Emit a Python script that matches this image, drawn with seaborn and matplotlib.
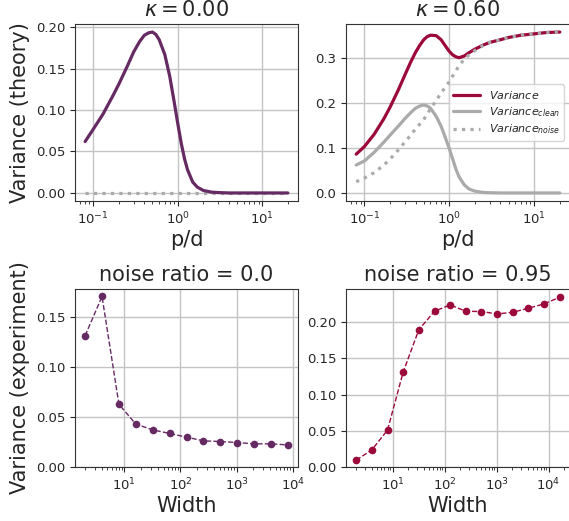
import numpy as np
import pandas as pd
import matplotlib
matplotlib.use('Agg')
import matplotlib.pyplot as plt
import seaborn as sns

# theory curves
pd_ratio = [0.08, 0.1, 0.13, 0.17, 0.2, 0.25, 0.3, 0.35, 0.4, 0.45, 0.5, 0.55, 0.6, 0.7, 0.8, 0.9,
            1.0, 1.1, 1.2, 1.3, 1.5, 1.7, 2.0, 2.5, 3, 4, 5, 7, 10, 14, 20]
clean_k0 = [0.062, 0.077, 0.095, 0.117, 0.131, 0.152, 0.170, 0.182, 0.190, 0.193, 0.194, 0.191, 0.185,
            0.167, 0.141, 0.111, 0.083, 0.059, 0.041, 0.028, 0.013, 0.007, 0.003, 0.001, 0.0005,
            0, 0, 0, 0, 0, 0]
noise_k0 = [0.0] * len(pd_ratio)
var_k6 = [0.086, 0.103, 0.130, 0.165, 0.190, 0.228, 0.262, 0.290, 0.312, 0.328, 0.340, 0.347, 0.350,
          0.349, 0.340, 0.326, 0.314, 0.306, 0.302, 0.300, 0.304, 0.311, 0.319, 0.328, 0.334, 0.340,
          0.345, 0.350, 0.353, 0.356, 0.357]
clean_k6 = [0.062, 0.071, 0.090, 0.113, 0.128, 0.148, 0.165, 0.178, 0.188, 0.193, 0.195, 0.193, 0.188,
            0.170, 0.148, 0.122, 0.098, 0.074, 0.052, 0.036, 0.018, 0.009, 0.004, 0.001, 0.0005,
            0, 0, 0, 0, 0, 0]
noise_k6 = [0.025, 0.033, 0.045, 0.062, 0.075, 0.095, 0.113, 0.128, 0.142, 0.153, 0.163, 0.175, 0.187,
            0.205, 0.222, 0.235, 0.247, 0.260, 0.272, 0.282, 0.297, 0.306, 0.316, 0.327, 0.334, 0.340,
            0.345, 0.350, 0.353, 0.356, 0.357]

# experiments
width_a = [2, 4, 8, 16, 32, 64, 128, 256, 512, 1024, 2048, 4096, 8192]
var_noise0 = [0.1315, 0.1708, 0.0628, 0.043, 0.0372, 0.0336, 0.0299, 0.0262, 0.0255, 0.0245,
              0.0232, 0.0232, 0.0221]
width_b = [2, 4, 8, 16, 32, 64, 128, 256, 512, 1024, 2048, 4096, 8192, 16384]
var_noise95 = [0.0095, 0.0237, 0.051, 0.1313, 0.1898, 0.2153, 0.2241, 0.2153, 0.2149, 0.2116,
               0.2139, 0.2195, 0.2255, 0.2348]

purple = '#662a63'
red = '#9c0a3b'
gray = '#aaaaaa'

sns.set_style('ticks')
plt.rcParams['font.family'] = ['DejaVu Sans']

fig = plt.figure(figsize=(5.69, 5.21), dpi=100)
W, H = 569, 521
def rect(x0, y0, x1, y1):
    return [x0 / W, 1 - y1 / H, (x1 - x0) / W, (y1 - y0) / H]

ax1 = fig.add_axes(rect(75, 24, 298, 201))
ax2 = fig.add_axes(rect(346, 24, 570, 201))
ax3 = fig.add_axes(rect(75, 289, 298, 467))
ax4 = fig.add_axes(rect(346, 289, 570, 467))

lw = 2.3
title_fs = 15
label_fs = 15

# kappa = 0
sns.lineplot(x=pd_ratio, y=noise_k0, ax=ax1, color=gray, lw=lw, linestyle=':')
sns.lineplot(x=pd_ratio, y=clean_k0, ax=ax1, color=purple, lw=lw)
ax1.set_title(r'$\kappa = 0.00$', fontsize=title_fs)
ax1.set_ylabel('Variance (theory)', fontsize=label_fs)

# kappa = 0.6
sns.lineplot(x=pd_ratio, y=var_k6, ax=ax2, color=red, lw=lw, label='$Variance$')
sns.lineplot(x=pd_ratio, y=clean_k6, ax=ax2, color=gray, lw=lw, label='$Variance_{clean}$')
sns.lineplot(x=pd_ratio, y=noise_k6, ax=ax2, color=gray, lw=lw, linestyle=':', label='$Variance_{noise}$')
ax2.set_title(r'$\kappa = 0.60$', fontsize=title_fs)
ax2.legend(loc='center right', fontsize=8, handlelength=2.4, borderpad=0.4, labelspacing=0.35)

for ax in (ax1, ax2):
    ax.set_xscale('log')
    ax.set_xlabel('p/d', fontsize=label_fs, labelpad=2)

# experiments
sns.lineplot(x=width_a, y=var_noise0, ax=ax3, color=purple, lw=1, linestyle='--',
             marker='o', markersize=5.5, markeredgewidth=0)
ax3.set_title('noise ratio = 0.0', fontsize=title_fs)
ax3.set_ylabel('Variance (experiment)', fontsize=label_fs)

sns.lineplot(x=width_b, y=var_noise95, ax=ax4, color=red, lw=1, linestyle='--',
             marker='o', markersize=5.5, markeredgewidth=0)
ax4.set_title('noise ratio = 0.95', fontsize=title_fs)

for ax in (ax3, ax4):
    ax.set_xscale('log')
    ax.set_xlabel('Width', fontsize=label_fs, labelpad=2)
    ax.set_ylim(bottom=0)

for ax in (ax1, ax2, ax3, ax4):
    ax.grid(True, color='#c4c4c4', lw=1)
    ax.tick_params(labelsize=9.5)
    for s in ax.spines.values():
        s.set_color('#333333')

fig.savefig('out.png', dpi=100)
